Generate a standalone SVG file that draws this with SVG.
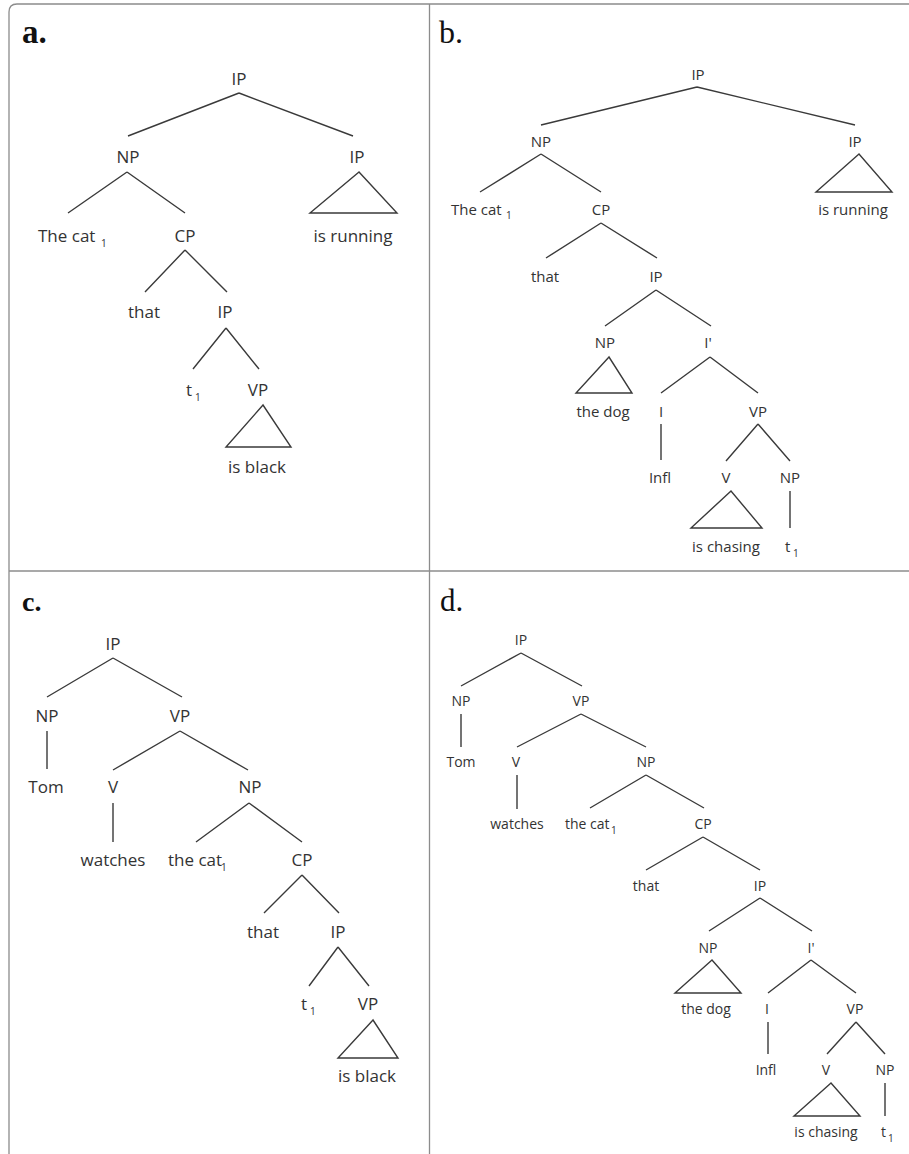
<svg xmlns="http://www.w3.org/2000/svg" width="909" height="1154" viewBox="0 0 909 1154">
<style>
.frame{fill:none;stroke:#8c8c8c;stroke-width:1.3}
.e{fill:none;stroke:#3a3a3a;stroke-width:1.4;stroke-linejoin:miter}
text{font-family:"Open Sans","Noto Sans","DejaVu Sans",sans-serif;fill:#333}
.m{text-anchor:middle}
.fa{font-size:17px}
.fb{font-size:15px}
.fc{font-size:17px}
.fd{font-size:14px}
.sub{font-size:10px}
.hd{font-family:"Liberation Serif","Times New Roman",serif;fill:#111}
</style>
<rect width="909" height="1154" fill="#fff"/>
<g id="frame">
<path class="frame" d="M9 1154 L9 12 Q9 4 17 4 L909 4"/>
<path class="frame" d="M429.5 4 L429.5 1154"/>
<path class="frame" d="M9 571 L909 571"/>
</g>
<g id="headings">
<text class="hd" x="22" y="43" font-size="33" font-weight="bold">a.</text>
<text class="hd" x="439" y="43" font-size="32">b.</text>
<text class="hd" x="22" y="611" font-size="28" font-weight="bold">c.</text>
<text class="hd" x="440" y="611" font-size="31">d.</text>
</g>
<g id="connectors">
<path class="e" d="M239 93 L128 136 M239 93 L353 136 M127 172 L68 213 M127 172 L185 213 M185 250 L145 292 M185 250 L227 292 M226 328 L193 369 M226 328 L259 369"/>
<polygon class="e" points="359,172 310,213 397,213"/>
<polygon class="e" points="263,405 226,447 291,447"/>
<path class="e" d="M697 87 L541 125 M697 87 L855 125 M541 154 L480 192 M541 154 L601 192 M601 223 L546 258 M601 223 L657 258 M656 290 L605 326 M656 290 L711 326 M710 357 L661 393 M710 357 L758 393 M661 424 L661 460 M758 424 L726 461 M758 424 L790 461 M790 491 L790 528"/>
<polygon class="e" points="859,154 816,192 892,192"/>
<polygon class="e" points="609,357 576,393 632,393"/>
<polygon class="e" points="731,491 691,528 762,528"/>
<path class="e" d="M113 658 L47 697 M113 658 L182 697 M47 731 L47 769 M180 731 L113 770 M180 731 L248 770 M113 803 L113 842 M249 803 L196 842 M249 803 L302 842 M302 875 L264 913 M302 875 L339 913 M338 947 L309 986 M338 947 L369 986"/>
<polygon class="e" points="373,1020 338,1058 398,1058"/>
<path class="e" d="M521 653 L461 686 M521 653 L582 686 M461 714 L461 747 M581 714 L517 747 M581 714 L646 747 M517 775 L517 809 M646 775 L590 808 M646 775 L704 808 M703 837 L646 870 M703 837 L760 870 M760 898 L709 931 M760 898 L812 931 M811 960 L768 993 M811 960 L856 993 M768 1022 L768 1054 M856 1022 L827 1054 M856 1022 L885 1054 M885 1083 L885 1116"/>
<polygon class="e" points="712,960 675,993 741,993"/>
<polygon class="e" points="831,1083 794,1116 860,1116"/>
</g>
<g id="tree-a" class="fa">
<g id="a-ip"><text class="m" x="239" y="85">IP</text></g>
<g id="a-np"><text class="m" x="128" y="163">NP</text></g>
<g id="a-ip2"><text class="m" x="357" y="163">IP</text></g>
<g id="a-thecat"><text x="38" y="242">The cat<tspan class="sub" x="101" y="247">1</tspan></text></g>
<g id="a-cp"><text class="m" x="185" y="242">CP</text></g>
<g id="a-isrunning"><text class="m" x="353" y="242">is running</text></g>
<g id="a-that"><text class="m" x="144" y="318">that</text></g>
<g id="a-ip3"><text class="m" x="225" y="318">IP</text></g>
<g id="a-t1"><text x="186" y="396">t<tspan class="sub" x="195" y="401">1</tspan></text></g>
<g id="a-vp"><text class="m" x="258" y="396">VP</text></g>
<g id="a-isblack"><text class="m" x="257" y="473">is black</text></g>
</g>
<g id="tree-b" class="fb">
<g id="b-ip"><text class="m" x="698" y="80">IP</text></g>
<g id="b-np"><text class="m" x="541" y="147">NP</text></g>
<g id="b-ip2"><text class="m" x="855" y="147">IP</text></g>
<g id="b-thecat"><text x="451" y="215">The cat<tspan class="sub" x="506" y="219">1</tspan></text></g>
<g id="b-cp"><text class="m" x="601" y="215">CP</text></g>
<g id="b-isrunning"><text class="m" x="853" y="215">is running</text></g>
<g id="b-that"><text class="m" x="545" y="282">that</text></g>
<g id="b-ip3"><text class="m" x="656" y="282">IP</text></g>
<g id="b-np2"><text class="m" x="605" y="348">NP</text></g>
<g id="b-ibar"><text class="m" x="708" y="348">I'</text></g>
<g id="b-thedog"><text class="m" x="603" y="417">the dog</text></g>
<g id="b-i"><text class="m" x="661" y="417">I</text></g>
<g id="b-vp"><text class="m" x="758" y="417">VP</text></g>
<g id="b-infl"><text class="m" x="660" y="483">Infl</text></g>
<g id="b-v"><text class="m" x="726" y="483">V</text></g>
<g id="b-np3"><text class="m" x="790" y="483">NP</text></g>
<g id="b-ischasing"><text class="m" x="726" y="552">is chasing</text></g>
<g id="b-t1"><text x="785" y="552">t<tspan class="sub" x="793" y="557">1</tspan></text></g>
</g>
<g id="tree-c" class="fc">
<g id="c-ip"><text class="m" x="113" y="650">IP</text></g>
<g id="c-np"><text class="m" x="47" y="722">NP</text></g>
<g id="c-vp"><text class="m" x="180" y="722">VP</text></g>
<g id="c-tom"><text class="m" x="46" y="793">Tom</text></g>
<g id="c-v"><text class="m" x="113" y="793">V</text></g>
<g id="c-np2"><text class="m" x="250" y="793">NP</text></g>
<g id="c-watches"><text class="m" x="113" y="866">watches</text></g>
<g id="c-thecat"><text x="168" y="866">the cat<tspan class="sub" x="221" y="871">1</tspan></text></g>
<g id="c-cp"><text class="m" x="302" y="866">CP</text></g>
<g id="c-that"><text class="m" x="263" y="938">that</text></g>
<g id="c-ip2"><text class="m" x="338" y="938">IP</text></g>
<g id="c-t1"><text x="301" y="1010">t<tspan class="sub" x="310" y="1015">1</tspan></text></g>
<g id="c-vp2"><text class="m" x="368" y="1010">VP</text></g>
<g id="c-isblack"><text class="m" x="367" y="1082">is black</text></g>
</g>
<g id="tree-d" class="fd">
<g id="d-ip"><text class="m" x="521" y="645">IP</text></g>
<g id="d-np"><text class="m" x="461" y="706">NP</text></g>
<g id="d-vp"><text class="m" x="581" y="706">VP</text></g>
<g id="d-tom"><text class="m" x="461" y="767">Tom</text></g>
<g id="d-v"><text class="m" x="516" y="767">V</text></g>
<g id="d-np2"><text class="m" x="646" y="767">NP</text></g>
<g id="d-watches"><text class="m" x="517" y="829">watches</text></g>
<g id="d-thecat"><text x="565" y="829">the cat<tspan class="sub" x="611" y="834">1</tspan></text></g>
<g id="d-cp"><text class="m" x="703" y="829">CP</text></g>
<g id="d-that"><text class="m" x="646" y="891">that</text></g>
<g id="d-ip2"><text class="m" x="760" y="891">IP</text></g>
<g id="d-np3"><text class="m" x="708" y="953">NP</text></g>
<g id="d-ibar"><text class="m" x="811" y="953">I'</text></g>
<g id="d-thedog"><text class="m" x="706" y="1014">the dog</text></g>
<g id="d-i"><text class="m" x="767" y="1014">I</text></g>
<g id="d-vp2"><text class="m" x="855" y="1014">VP</text></g>
<g id="d-infl"><text class="m" x="766" y="1075">Infl</text></g>
<g id="d-v2"><text class="m" x="826" y="1075">V</text></g>
<g id="d-np4"><text class="m" x="885" y="1075">NP</text></g>
<g id="d-ischasing"><text class="m" x="826" y="1137">is chasing</text></g>
<g id="d-t1"><text x="881" y="1137">t<tspan class="sub" x="888" y="1142">1</tspan></text></g>
</g>
</svg>
